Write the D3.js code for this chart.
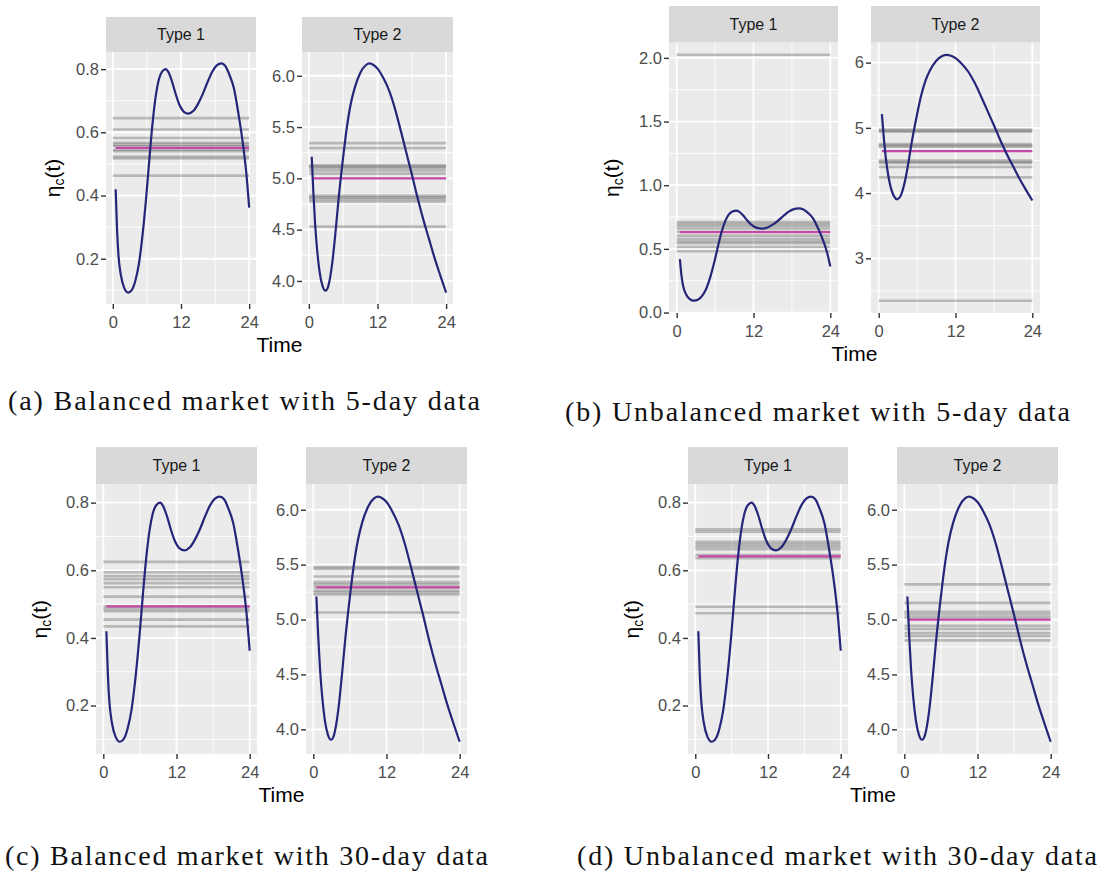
<!DOCTYPE html>
<html>
<head>
<meta charset="utf-8">
<script src="https://cdn.jsdelivr.net/npm/d3@7"></script>
<style>
  body { margin: 0; background: #fff; }
  svg text { font-family: "Liberation Sans", Arial, Helvetica, sans-serif; }
  svg text.caption { font-family: "Liberation Serif", "DejaVu Serif", serif; }
</style>
</head>
<body>
<svg id="chart" width="1105" height="875"></svg>
<script>
// ---- data ----
var hours = [0, 24];
var xTicks = [0, 12, 24];
var xMinor = [6, 18];
var types = ["Type 1", "Type 2"];

// fitted eta_c(t) curves (same in every subfigure)
var curveType1 = [[0.5,0.42],[0.75,0.29],[1.0,0.21],[1.4,0.15],[2.0,0.108],[2.7,0.093],[3.3,0.1],
  [4.0,0.133],[4.6,0.185],[5.2,0.27],[5.9,0.40],[6.5,0.53],[7.0,0.63],[7.6,0.72],[8.1,0.767],
  [8.7,0.793],[9.3,0.80],[9.8,0.79],[10.4,0.762],[11.0,0.725],[11.7,0.688],[12.5,0.665],
  [13.3,0.659],[14.2,0.668],[15.0,0.69],[15.8,0.72],[16.7,0.76],[17.5,0.792],[18.3,0.812],
  [19.1,0.818],[19.8,0.81],[20.5,0.783],[21.3,0.74],[22.1,0.66],[22.9,0.563],[23.5,0.47],[24,0.362]];
var curveType2 = [[0.5,5.21],[0.8,4.85],[1.1,4.55],[1.5,4.27],[1.9,4.08],[2.4,3.95],[2.9,3.905],
  [3.4,3.95],[4.1,4.18],[4.7,4.5],[5.2,4.8],[5.9,5.16],[6.6,5.48],[7.3,5.72],[8.0,5.88],[9.0,6.03],
  [10.0,6.105],[10.6,6.12],[11.3,6.105],[12.0,6.07],[13.0,5.98],[14.0,5.86],[15.0,5.69],[16.0,5.48],
  [17.0,5.26],[18.0,5.04],[19.0,4.81],[20.0,4.60],[21.0,4.41],[22.0,4.22],[23.0,4.05],[24,3.887]];

// estimates (grey lines) and truth (pink line), per subfigure and type
var estA1 = [0.645, 0.609, 0.582, 0.567, 0.561, 0.556, 0.545, 0.540, 0.523, 0.517, 0.463];
var estA2 = [5.343, 5.295, 5.127, 5.115, 5.104, 5.078, 5.046, 4.83, 4.815, 4.80, 4.776, 4.53];
var truthA = [0.551, 5.0];

var estB1 = [2.024, 0.711, 0.695, 0.680, 0.660, 0.635, 0.604, 0.580, 0.560, 0.545, 0.515, 0.481];
var estB2 = [4.975, 4.955, 4.94, 4.75, 4.73, 4.71, 4.50, 4.48, 4.46, 4.40, 4.24, 2.35];
var truthB = [0.632, 4.642];

var estC1 = [0.625, 0.594, 0.583, 0.574, 0.562, 0.550, 0.522, 0.493, 0.486, 0.479, 0.454, 0.434];
var estC2 = [5.478, 5.462, 5.392, 5.341, 5.32, 5.295, 5.265, 5.247, 5.228, 5.064];
var truthC = [0.493, 5.292];

var estD1 = [0.721, 0.714, 0.684, 0.677, 0.670, 0.662, 0.645, 0.636, 0.492, 0.473];
var estD2 = [5.32, 5.152, 5.07, 5.046, 5.02, 4.943, 4.915, 4.876, 4.85, 4.81];
var truthD = [0.641, 5.0];

// y tick values
var ticksA1 = [0.2, 0.4, 0.6, 0.8], ticksA2 = [4.0, 4.5, 5.0, 5.5, 6.0];
var ticksB1 = [0.0, 0.5, 1.0, 1.5, 2.0], ticksB2 = [3, 4, 5, 6];
var ticksC1 = [0.2, 0.4, 0.6, 0.8], ticksC2 = [4.0, 4.5, 5.0, 5.5, 6.0];
var ticksD1 = [0.2, 0.4, 0.6, 0.8], ticksD2 = [4.0, 4.5, 5.0, 5.5, 6.0];

var captions = ["(a) Balanced market with 5-day data", "(b) Unbalanced market with 5-day data",
  "(c) Balanced market with 30-day data", "(d) Unbalanced market with 30-day data"];

// ---- layout of the four subfigures ----
var figs = [
  { est: [estA1, estA2], truth: truthA, ticks: [ticksA1, ticksA2], fmt: [".1f", ".1f"],
    panels: [[106, 256], [302, 453]], top: 17, stripB: 52, bottom: 304, yTitleX: 53,
    cap: captions[0], capX: 8, capY: 410, capW: 472 },
  { est: [estB1, estB2], truth: truthB, ticks: [ticksB1, ticksB2], fmt: [".1f", "d"],
    panels: [[669, 838], [871, 1040]], top: 6, stripB: 42.5, bottom: 313, yTitleX: 612,
    cap: captions[1], capX: 565, capY: 421, capW: 505 },
  { est: [estC1, estC2], truth: truthC, ticks: [ticksC1, ticksC2], fmt: [".1f", ".1f"],
    panels: [[96, 257], [306, 467]], top: 447, stripB: 484.3, bottom: 754, yTitleX: 40,
    cap: captions[2], capX: 5, capY: 865, capW: 483 },
  { est: [estD1, estD2], truth: truthD, ticks: [ticksD1, ticksD2], fmt: [".1f", ".1f"],
    panels: [[688, 848], [897, 1058]], top: 447, stripB: 484.3, bottom: 754, yTitleX: 632,
    cap: captions[3], capX: 577, capY: 865, capW: 520 }
];

var curves = [curveType1, curveType2];
var svg = d3.select("#chart");

function hline(sel, data, x, y, xa, xb) {
  return sel.selectAll(null).data(data).enter().append("line")
    .attr("x1", xa).attr("x2", xb)
    .attr("y1", function(d) { return y(d); }).attr("y2", function(d) { return y(d); });
}
function vline(sel, data, x, y0, y1) {
  return sel.selectAll(null).data(data).enter().append("line")
    .attr("y1", y0).attr("y2", y1)
    .attr("x1", function(d) { return x(d); }).attr("x2", function(d) { return x(d); });
}

figs.forEach(function(f) {
  types.forEach(function(type, i) {
    var g = svg.append("g");
    var xPad = (hours[1] - hours[0]) * 0.05;
    var x = d3.scaleLinear()
      .domain([hours[0] - xPad, hours[1] + xPad])
      .range(f.panels[i]);

    var vals = curves[i].map(function(d) { return d[1]; }).concat(f.est[i], [f.truth[i]]);
    var ext = d3.extent(vals), yPad = (ext[1] - ext[0]) * 0.05;
    var y = d3.scaleLinear()
      .domain([ext[0] - yPad, ext[1] + yPad])
      .range([f.bottom, f.stripB]);

    var x0 = f.panels[i][0], x1 = f.panels[i][1];

    g.append("rect")
      .attr("x", x0).attr("y", f.stripB)
      .attr("width", x1 - x0).attr("height", f.bottom - f.stripB)
      .attr("fill", "#EBEBEB");

    // grid
    var tk = f.ticks[i], step = tk[1] - tk[0];
    var yMinor = d3.range(tk[0] - step / 2, tk[tk.length - 1] + step, step)
      .filter(function(v) { return v > y.domain()[0] && v < y.domain()[1]; });
    hline(g, yMinor, x, y, x0, x1).attr("stroke", "#fff").attr("stroke-width", 0.9);
    vline(g, xMinor, x, f.stripB, f.bottom).attr("stroke", "#fff").attr("stroke-width", 0.9);
    hline(g, tk, x, y, x0, x1).attr("stroke", "#fff").attr("stroke-width", 1.8);
    vline(g, xTicks, x, f.stripB, f.bottom).attr("stroke", "#fff").attr("stroke-width", 1.8);

    // grey estimate lines
    hline(g, f.est[i], x, y, x(hours[0]), x(hours[1]))
      .attr("stroke", "#5a5555").attr("stroke-opacity", 0.35).attr("stroke-width", 2.6);

    // truth line
    hline(g, [f.truth[i]], x, y, x(curves[i][0][0]), x(hours[1]))
      .attr("stroke", "#C548A6").attr("stroke-width", 2.2);

    // curve
    g.append("path")
      .datum(curves[i])
      .attr("d", d3.line()
        .x(function(d) { return x(d[0]); })
        .y(function(d) { return y(d[1]); })
        .curve(d3.curveMonotoneX))
      .attr("fill", "none").attr("stroke", "#25257A").attr("stroke-width", 2.2);

    // strip
    g.append("rect")
      .attr("x", x0).attr("y", f.top)
      .attr("width", x1 - x0).attr("height", f.stripB - f.top)
      .attr("fill", "#D9D9D9");
    g.append("text")
      .attr("x", (x0 + x1) / 2).attr("y", (f.top + f.stripB) / 2)
      .attr("dy", "0.36em").attr("text-anchor", "middle")
      .attr("font-size", 16).attr("fill", "#1A1A1A")
      .text(type);

    // axes
    var ya = g.append("g").attr("transform", "translate(" + x0 + ",0)")
      .call(d3.axisLeft(y).tickValues(tk).tickFormat(d3.format(f.fmt[i])).tickSize(5).tickPadding(2));
    var xa = g.append("g").attr("transform", "translate(0," + f.bottom + ")")
      .call(d3.axisBottom(x).tickValues(xTicks).tickFormat(d3.format("d")).tickSize(5).tickPadding(7));
    [ya, xa].forEach(function(a) {
      a.select(".domain").remove();
      a.selectAll(".tick line").attr("stroke", "#333").attr("stroke-width", 1.4);
      a.selectAll(".tick text").attr("fill", "#4D4D4D").attr("font-size", 16.5);
    });
  });

  // axis titles
  var midX = (f.panels[0][0] + f.panels[1][1]) / 2;
  svg.append("text")
    .attr("x", midX).attr("y", f.bottom + 48)
    .attr("text-anchor", "middle").attr("font-size", 21).attr("fill", "#000")
    .text("Time");

  var yt = svg.append("text")
    .attr("transform", "translate(" + f.yTitleX + "," + (f.stripB + f.bottom) / 2 + ") rotate(-90)")
    .attr("text-anchor", "middle").attr("dy", "0.35em")
    .attr("font-size", 21).attr("fill", "#000");
  yt.append("tspan").text("η");
  yt.append("tspan").attr("font-size", 14).attr("dy", 4).text("c");
  yt.append("tspan").attr("dy", -4).text("(t)");

  // caption
  var cap = svg.append("text")
    .attr("class", "caption")
    .attr("x", f.capX).attr("y", f.capY)
    .attr("font-size", 26).attr("fill", "#111")
    .text(f.cap);
  var w = cap.node().getComputedTextLength();
  cap.attr("font-size", Math.min(28, 26 * f.capW / w));
  cap.attr("textLength", f.capW).attr("lengthAdjust", "spacing");
});
</script>
</body>
</html>
